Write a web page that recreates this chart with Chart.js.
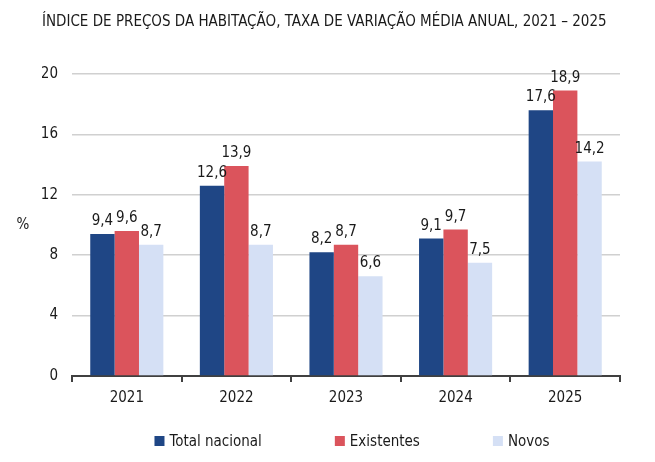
<!DOCTYPE html>
<html>
<head>
<meta charset="utf-8">
<script src="https://cdn.jsdelivr.net/npm/chart.js@4/dist/chart.umd.min.js"></script>
<style>
  html, body { margin: 0; padding: 0; background: #fff; }
  #wrap { width: 655px; height: 462px; position: relative; }
</style>
</head>
<body>
<div id="wrap"><canvas id="grafico"></canvas></div>
<script>
const anos = ["2021", "2022", "2023", "2024", "2025"];
const totalNacional = [9.4, 12.6, 8.2, 9.1, 17.6];
const existentes = [9.6, 13.9, 8.7, 9.7, 18.9];
const novos = [8.7, 8.7, 6.6, 7.5, 14.2];
const ticksY = [0, 4, 8, 12, 16, 20];

const fonte = "'Liberation Sans Narrow', 'DejaVu Sans Condensed', sans-serif";
const corTexto = "#1a1a1a";

// etiquetas de valor por cima das barras, o "%" do eixo e a legenda em baixo
const extras = {
  id: 'extras',
  afterDatasetsDraw(chart) {
    const ctx = chart.ctx;
    const area = chart.chartArea;
    ctx.save();
    ctx.font = "15px " + fonte;
    ctx.fillStyle = corTexto;
    ctx.textAlign = "center";
    ctx.textBaseline = "alphabetic";
    chart.data.datasets.forEach((ds, i) => {
      chart.getDatasetMeta(i).data.forEach((bar, j) => {
        ctx.fillText(ds.data[j].toFixed(1).replace('.', ','), bar.x, bar.y - 9);
      });
    });

    ctx.textBaseline = "middle";
    ctx.fillText("%", 23, (area.top + area.bottom) / 2);

    // legenda
    const ds = chart.data.datasets;
    const caixa = 10, folga = 5, espaco = 73;
    const larguras = ds.map(d => caixa + folga + ctx.measureText(d.label).width);
    const total = larguras.reduce((a, b) => a + b, 0) + espaco * (ds.length - 1);
    let x = (area.left + area.right) / 2 + 6 - total / 2;
    const y = 441;
    ctx.textAlign = "left";
    ds.forEach((d, i) => {
      ctx.fillStyle = d.backgroundColor;
      ctx.fillRect(x, y - caixa / 2, caixa, caixa);
      ctx.fillStyle = corTexto;
      ctx.fillText(d.label, x + caixa + folga, y + 1);
      x += larguras[i] + espaco;
    });
    ctx.restore();
  }
};

const ctx = document.getElementById("grafico").getContext("2d");
new Chart(ctx, {
  type: "bar",
  data: {
    labels: anos,
    datasets: [
      { label: "Total nacional", data: totalNacional, backgroundColor: "#1F4685" },
      { label: "Existentes", data: existentes, backgroundColor: "#DB545C" },
      { label: "Novos", data: novos, backgroundColor: "#D5E0F5" },
    ],
  },
  options: {
    responsive: true,
    maintainAspectRatio: false,
    animation: false,
    categoryPercentage: 0.667,
    barPercentage: 1.0,
    layout: { padding: { left: 42, right: 35, top: 0, bottom: 48 } },
    plugins: {
      tooltip: { enabled: false },
      legend: { display: false },
      title: {
        display: true,
        text: "ÍNDICE DE PREÇOS DA HABITAÇÃO, TAXA DE VARIAÇÃO MÉDIA ANUAL, 2021 – 2025",
        align: "start",
        color: corTexto,
        font: { family: fonte, size: 15, weight: "normal" },
        padding: { top: 13, bottom: 43 },
      },
    },
    scales: {
      x: {
        grid: {
          offset: true,
          drawOnChartArea: false,
          drawTicks: true,
          tickLength: 6,
          color: "#404040",
          lineWidth: 2,
        },
        border: { color: "#404040", width: 2 },
        ticks: { color: corTexto, font: { family: fonte, size: 15 }, padding: 7 },
      },
      y: {
        min: 0,
        max: 20,
        afterBuildTicks(axis) { axis.ticks = ticksY.map(v => ({ value: v })); },
        afterFit(axis) { axis.width = 30; },
        grid: { color: "#d0d0d0", lineWidth: 1.5, drawTicks: false },
        border: { display: false },
        ticks: { color: corTexto, font: { family: fonte, size: 15 }, padding: 14 },
      },
    },
  },
  plugins: [extras],
});
</script>
</body>
</html>
